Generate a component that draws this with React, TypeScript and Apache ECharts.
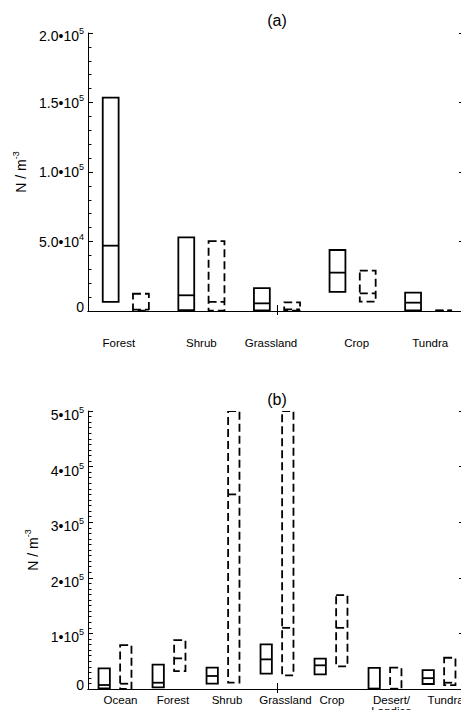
import React, { useEffect, useRef } from 'react';
import * as echarts from 'echarts';

// ---------- data ----------
const topCategories = ['Forest', 'Shrub', 'Grassland', 'Crop', 'Tundra'];
const topSolidLow = [6500, 700, 500, 13700, 500];
const topSolidMed = [47000, 11300, 5500, 27600, 6000];
const topSolidHigh = [153500, 53000, 16500, 43900, 13200];
const topDashLow = [200, 300, 300, 6700, 0];
const topDashMed = [1000, 6500, 1200, 12700, 200];
const topDashHigh = [12400, 50300, 6200, 29000, 400];

const botCategories = ['Ocean', 'Forest', 'Shrub', 'Grassland', 'Crop', 'Desert/\nLandice', 'Tundra'];
const botSolidLow = [1000, 3000, 9500, 27500, 26400, 0, 9000];
const botSolidMed = [7200, 11300, 23400, 53300, 42600, 800, 19500];
const botSolidHigh = [37200, 43700, 38300, 80300, 54500, 38000, 34100];
const botDashLow = [0, 32300, 11300, 24600, 40800, 0, 7000];
const botDashMed = [9500, 55100, 350000, 110000, 110000, 500, 11300];
const botDashHigh = [79000, 88000, 500000, 500000, 169000, 38300, 56200];

const topTickMain = ['0', '5.0•10', '1.0•10', '1.5•10', '2.0•10'];
const topTickExp = ['', '4', '5', '5', '5'];
const botTickMain = ['0', '1•10', '2•10', '3•10', '4•10', '5•10'];
const botTickExp = ['', '5', '5', '5', '5', '5'];

// ---------- style / layout ----------
const FONT = '"Liberation Sans", Arial, Helvetica, sans-serif';
const topLabelDx = [-7, 0, -6, 4, 2];
const botLabelDx = [5.5, 4, 4, 8.5, 1, 6.5, 6.6];
const topTickDy = [-4, 0, 0, 0, 3];
const botTickDy = [-4, 4, 4, 4, 4, 4];

function catRich(dx: number[]) {
  const rich: any = {};
  dx.forEach((d, i) => {
    rich['c' + i] = {
      fontSize: 11.5,
      fontFamily: FONT,
      color: '#000',
      lineHeight: 11,
      padding: d >= 0 ? [0, 0, 0, 2 * d] : [0, -2 * d, 0, 0],
    };
  });
  return rich;
}
function catFormatter(value: string, idx: number) {
  return String(value)
    .split('\n')
    .map((l) => `{c${idx}|${l}}`)
    .join('\n');
}
function tickRich(dy: number[]) {
  const rich: any = {};
  dy.forEach((s, i) => {
    rich['m' + i] = {
      fontSize: 14,
      fontFamily: FONT,
      color: '#000',
      padding: s > 0 ? [2 * s, 0, 0, 0] : s < 0 ? [0, 0, -2 * s, 0] : [0, 0, 0, 0],
    };
    rich['s' + i] = {
      fontSize: 9,
      fontFamily: FONT,
      color: '#000',
      padding: [s > 0 ? 2 * s : 0, 0, 10 + (s < 0 ? -2 * s : 0), 0],
    };
  });
  return rich;
}
function tickFormatter(main: string[], exp: string[], step: number) {
  return (v: number) => {
    const i = Math.round(v / step);
    return `{m${i}|${main[i]}}` + (exp[i] ? `{s${i}|${exp[i]}}` : '');
  };
}

function makeRender(offsetFrac: number, dashed: boolean) {
  return (params: any, api: any) => {
    const c = api.value(0);
    const lo = api.coord([c, api.value(1)]);
    const md = api.coord([c, api.value(2)]);
    const hi = api.coord([c, api.value(3)]);
    const band = api.size([1, 0])[0];
    const cx = lo[0] + offsetFrac * band;
    const w = band * 0.21;
    const style: any = { fill: 'none', stroke: '#000', lineWidth: 1.8 };
    if (dashed) style.lineDash = [8, 4];
    return {
      type: 'group',
      children: [
        { type: 'rect', shape: { x: cx - w / 2, y: hi[1], width: w, height: lo[1] - hi[1] }, style },
        { type: 'line', shape: { x1: cx - w / 2, y1: md[1], x2: cx + w / 2, y2: md[1] }, style },
      ],
    };
  };
}

const lineStyle = { color: '#000', width: 1 };
const nameStyle = {
  fontSize: 14,
  fontFamily: FONT,
  color: '#000',
  rich: {
    n: { fontSize: 14, fontFamily: FONT, color: '#000' },
    s: { fontSize: 9, fontFamily: FONT, color: '#000', padding: [0, 0, 10, 0] },
  },
};
const midTick = (n: number) => (idx: number) => idx === Math.floor(n / 2);

function buildOption() {
  const topSolid = topCategories.map((_, i) => [i, topSolidLow[i], topSolidMed[i], topSolidHigh[i]]);
  const topDash = topCategories.map((_, i) => [i, topDashLow[i], topDashMed[i], topDashHigh[i]]);
  const botSolid = botCategories.map((_, i) => [i, botSolidLow[i], botSolidMed[i], botSolidHigh[i]]);
  const botDash = botCategories.map((_, i) => [i, botDashLow[i], botDashMed[i], botDashHigh[i]]);

  const catAxes = (grid: number, cats: string[], dx: number[], margin: number) => [
    {
      gridIndex: grid,
      type: 'category',
      data: cats,
      position: 'bottom',
      axisLine: { show: true, lineStyle },
      axisTick: { show: true, inside: true, length: 6, alignWithLabel: true, interval: midTick(cats.length), lineStyle },
      axisLabel: { interval: 0, margin, formatter: catFormatter, rich: catRich(dx) },
      splitLine: { show: false },
    },
    {
      gridIndex: grid,
      type: 'category',
      data: cats,
      position: 'top',
      axisLine: { show: true, lineStyle },
      axisTick: { show: true, inside: true, length: 4, alignWithLabel: true, interval: midTick(cats.length), lineStyle },
      axisLabel: { show: false },
      splitLine: { show: false },
    },
  ];
  const valAxes = (grid: number, max: number, step: number, minorSplit: number, main: string[], exp: string[], dy: number[], nameGap: number) => [
    {
      gridIndex: grid,
      type: 'value',
      min: 0,
      max,
      interval: step,
      position: 'left',
      axisLine: { show: true, lineStyle },
      axisTick: { show: true, inside: true, length: 5, lineStyle },
      minorTick: { show: true, splitNumber: minorSplit, length: 3.5, lineStyle },
      axisLabel: { margin: 4, formatter: tickFormatter(main, exp, step), rich: tickRich(dy) },
      splitLine: { show: false },
      minorSplitLine: { show: false },
      name: '{n|N / m}{s|-3}',
      nameLocation: 'middle',
      nameRotate: 90,
      nameGap,
      nameTextStyle: nameStyle,
    },
    {
      gridIndex: grid,
      type: 'value',
      min: 0,
      max,
      interval: step,
      position: 'right',
      axisLine: { show: true, lineStyle },
      axisTick: { show: true, inside: true, length: 7, lineStyle },
      axisLabel: { show: false },
      splitLine: { show: false },
    },
  ];

  return {
    animation: false,
    backgroundColor: '#fff',
    grid: [
      { left: 88, top: 33, width: 378, height: 278, outerBoundsMode: 'none', containLabel: false },
      { left: 88, top: 411, width: 378, height: 278, outerBoundsMode: 'none', containLabel: false },
    ],
    xAxis: [
      ...catAxes(0, topCategories, topLabelDx, 26.2),
      ...catAxes(1, botCategories, botLabelDx, 5.5),
    ],
    yAxis: [
      ...valAxes(0, 200000, 50000, 5, topTickMain, topTickExp, topTickDy, 53),
      ...valAxes(1, 500000, 100000, 10, botTickMain, botTickExp, botTickDy, 42),
    ],
    graphic: [
      { type: 'text', x: 277, y: 20, style: { text: '(a)', fontSize: 16, fontFamily: FONT, fill: '#000', align: 'center', verticalAlign: 'middle' } },
      { type: 'text', x: 277, y: 399, style: { text: '(b)', fontSize: 16, fontFamily: FONT, fill: '#000', align: 'center', verticalAlign: 'middle' } },
    ],
    series: [
      { type: 'custom', xAxisIndex: 0, yAxisIndex: 0, renderItem: makeRender(-0.2, false), data: topSolid, encode: { x: 0, y: [1, 2, 3] }, clip: true },
      { type: 'custom', xAxisIndex: 0, yAxisIndex: 0, renderItem: makeRender(0.2, true), data: topDash, encode: { x: 0, y: [1, 2, 3] }, clip: true },
      { type: 'custom', xAxisIndex: 2, yAxisIndex: 2, renderItem: makeRender(-0.2, false), data: botSolid, encode: { x: 0, y: [1, 2, 3] }, clip: true },
      { type: 'custom', xAxisIndex: 2, yAxisIndex: 2, renderItem: makeRender(0.2, true), data: botDash, encode: { x: 0, y: [1, 2, 3] }, clip: true },
    ],
  };
}

export default function App() {
  const ref = useRef<HTMLDivElement>(null);
  useEffect(() => {
    if (!ref.current) return;
    const chart = echarts.init(ref.current, undefined, { renderer: 'svg' });
    chart.setOption(buildOption() as any);
    return () => chart.dispose();
  }, []);
  return (
    <div
      ref={ref}
      style={{ position: 'absolute', left: 0, top: 0, width: 461, height: 710, background: '#fff' }}
    />
  );
}
